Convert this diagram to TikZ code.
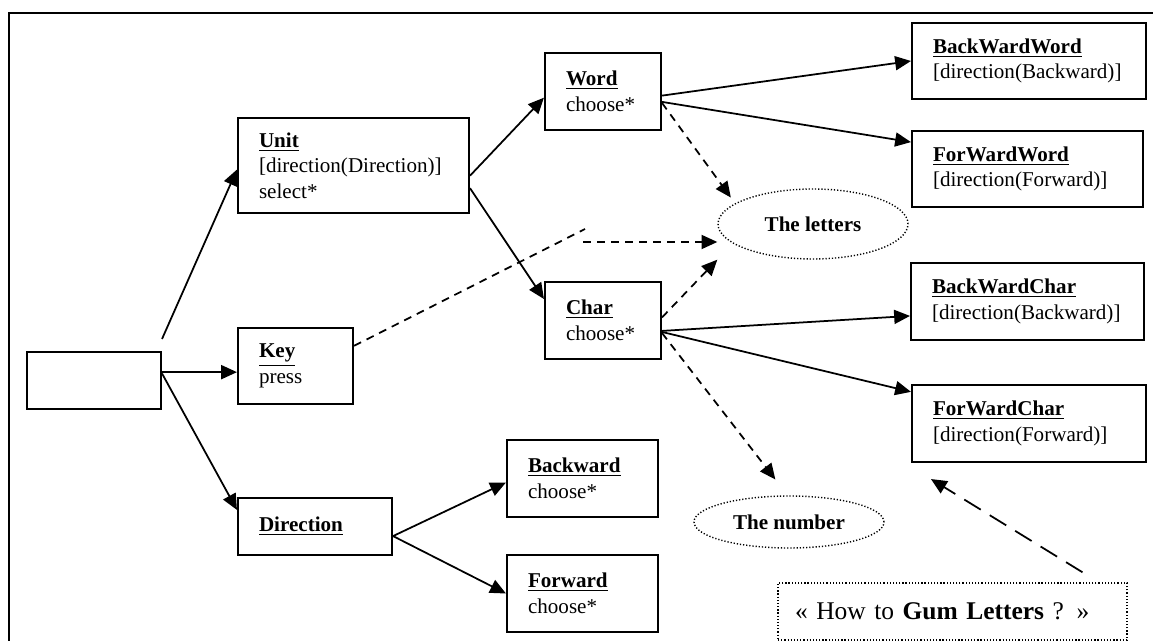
\documentclass[tikz,border=0pt]{standalone}
\usepackage{fontspec}
\setmainfont{Liberation Serif}
\usetikzlibrary{arrows.meta,shapes.geometric}
\tikzset{
  % text size for every node
  every node/.append style={font=\fontsize{12}{14.5}\selectfont},
  % class box
  cls/.style={draw, line width=1.2pt, align=left, inner xsep=0.42cm, inner ysep=2pt},
  % dotted ellipse
  blob/.style={draw, ellipse, inner sep=0pt, line width=0.8pt,
    dash pattern=on 0.7pt off 1.1pt,
    font=\fontsize{12}{14.5}\selectfont\bfseries},
  % arrows
  arr/.style={-{Triangle[length=9pt,width=8pt]}, line width=1pt},
  darr/.style={arr, dash pattern=on 4.5pt off 3.5pt},
  dline/.style={line width=1pt, dash pattern=on 4.5pt off 3.5pt},
}
\newcommand{\ttl}[1]{\underline{\textbf{#1}}}

\begin{document}
\begin{tikzpicture}[x=0.02cm, y=-0.02cm]
  \useasboundingbox (0,0) rectangle (1153,641);
  % frame
  \draw[line width=1.2pt] (1153,13) -- (9,13) -- (9,641);

  % left part
  \node[cls, text width=1.84cm, minimum height=1.14cm] (root) at (94,380.5) {};
  \node[cls, text width=3.78cm, minimum height=1.9cm] (unit) at (353.5,165.5)
    {\ttl{Unit}\\{}[direction(Direction)]\\select*};
  \node[cls, text width=1.46cm, minimum height=1.52cm] (key) at (295.5,366)
    {\ttl{Key}\\press};
  \node[cls, text width=2.24cm, minimum height=1.14cm] (dir) at (315,526.5)
    {\ttl{Direction}};

  % middle part
  \node[cls, text width=1.48cm, minimum height=1.54cm] (word) at (603,91.5)
    {\ttl{Word}\\choose*};
  \node[cls, text width=1.48cm, minimum height=1.54cm] (char) at (603,320.5)
    {\ttl{Char}\\choose*};
  \node[cls, text width=2.18cm, minimum height=1.54cm] (bwd) at (582.5,478.5)
    {\ttl{Backward}\\choose*};
  \node[cls, text width=2.18cm, minimum height=1.54cm] (fwd) at (582.5,593.5)
    {\ttl{Forward}\\choose*};

  % right part
  \node[cls, text width=3.84cm, minimum height=1.52cm] (bww) at (1029,61)
    {\ttl{BackWardWord}\\{}[direction(Backward)]};
  \node[cls, text width=3.78cm, minimum height=1.52cm] (fww) at (1027.5,169)
    {\ttl{ForWardWord}\\{}[direction(Forward)]};
  \node[cls, text width=3.82cm, minimum height=1.54cm] (bwc) at (1027.5,301.5)
    {\ttl{BackWardChar}\\{}[direction(Backward)]};
  \node[cls, text width=3.84cm, minimum height=1.54cm] (fwc) at (1029,423.5)
    {\ttl{ForWardChar}\\{}[direction(Forward)]};

  % ellipses and note
  \node[blob, minimum width=3.8cm, minimum height=1.4cm] (letters) at (813,224) {The letters};
  \node[blob, minimum width=3.8cm, minimum height=1.04cm] (number) at (789,522) {The number};
  \node[draw, line width=0.8pt, dash pattern=on 0.7pt off 1.1pt, align=left,
    inner xsep=0.34cm, text width=6.3cm, minimum height=1.14cm,
    font=\fontsize{14.5}{17}\selectfont] (gum) at (952.5,611.5)
    {« How to \textbf{Gum Letters} ? »};

  % solid arrows
  \draw[arr] ([shift={(0,-12)}]root.north east) -- (unit.182);
  \draw[arr] (root.east |- key.186) -- (key.186);
  \draw[arr] ([shift={(0,-7)}]root.east) -- (dir.168);
  \draw[arr] (unit.-5) -- (word.186);
  \draw[arr] (unit.-11) -- (char.160);
  \draw[arr] (word.-4) -- (bww.west);
  \draw[arr] (word.-10) -- (fww.167);
  \draw[arr] (char.-10) -- (bwc.187);
  \draw[arr] (char.-11) -- (fwc.165);
  \draw[arr] (dir.-7) -- (bwd.183);
  \draw[arr] (dir.-7) -- (fwd.west);

  % dashed arrows
  \coordinate (kbend) at (585,229);
  \coordinate (kstart) at (583,242);
  \draw[dline] (key.19) -- (kbend);
  \draw[darr] (kstart) -- (kstart -| letters.west);
  \draw[darr] (word.-11) -- ([shift={(-10,-3)}]letters.162);
  \draw[darr] (char.3) -- (letters.west |- letters.south);
  \draw[darr, shorten >=0.4cm] (char.-12) -- (number.93);
  \draw[arr, dash pattern=on 11pt off 6pt]
    ([shift={(130,-10)}]gum.north) -- ([shift={(20,16)}]fwc.south west);
\end{tikzpicture}
\end{document}
